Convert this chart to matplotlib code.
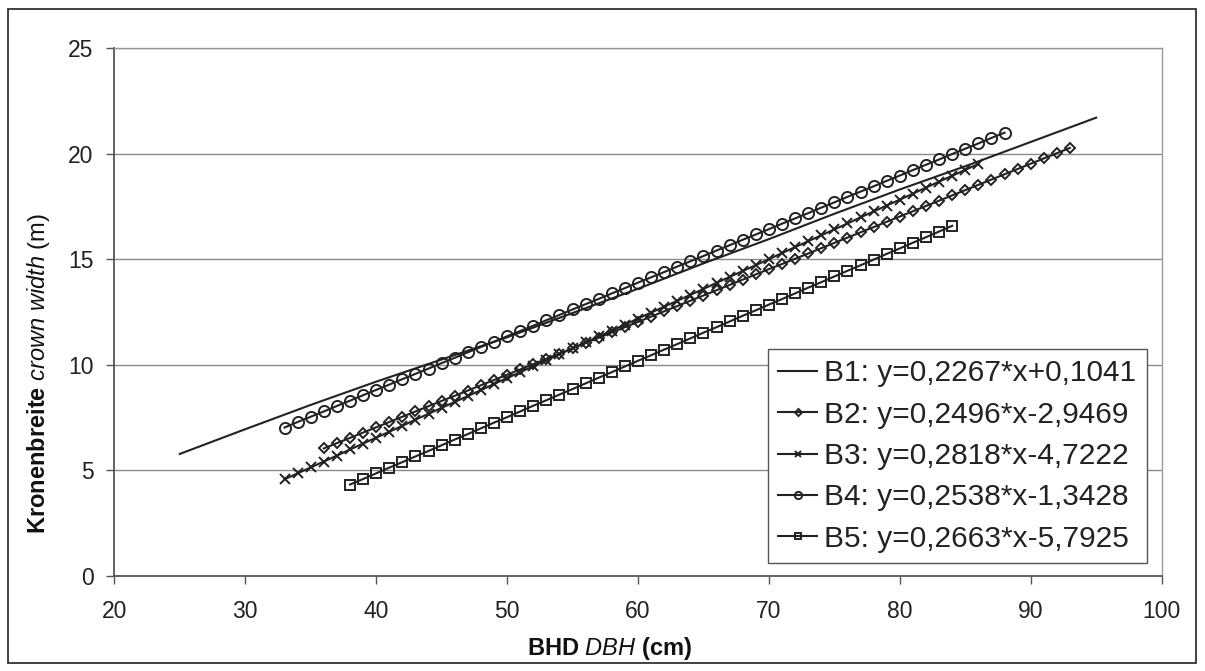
import matplotlib
matplotlib.use('Agg')
import matplotlib.pyplot as plt
from matplotlib.patches import Rectangle

plt.rcParams['font.family'] = ['Liberation Sans', 'DejaVu Sans']
plt.rcParams['mathtext.fontset'] = 'custom'
plt.rcParams['mathtext.rm'] = 'Liberation Sans'
plt.rcParams['mathtext.it'] = 'Liberation Sans:italic'
plt.rcParams['mathtext.bf'] = 'Liberation Sans:bold'

# ---------------- data ----------------
labels = ["B1: y=0,2267*x+0,1041",
          "B2: y=0,2496*x-2,9469",
          "B3: y=0,2818*x-4,7222",
          "B4: y=0,2538*x-1,3428",
          "B5: y=0,2663*x-5,7925"]

b1_x = [25, 30, 35, 40, 45, 50, 55, 60, 65, 70, 75, 80, 85, 90, 95]
b1_y = [5.78, 6.95, 8.10, 9.20, 10.25, 11.30, 12.45, 13.60, 14.80, 15.95,
        17.15, 18.30, 19.40, 20.55, 21.70]

b2_x = list(range(36, 94))
b2_y = [6.04, 6.29, 6.54, 6.79, 7.04, 7.29, 7.54, 7.79, 8.04, 8.29,
        8.53, 8.78, 9.03, 9.28, 9.53, 9.78, 10.03, 10.28, 10.53, 10.78,
        11.03, 11.28, 11.53, 11.78, 12.03, 12.28, 12.53, 12.78, 13.03, 13.28,
        13.53, 13.78, 14.03, 14.28, 14.53, 14.77, 15.02, 15.27, 15.52, 15.77,
        16.02, 16.27, 16.52, 16.77, 17.02, 17.27, 17.52, 17.77, 18.02, 18.27,
        18.52, 18.77, 19.02, 19.27, 19.52, 19.77, 20.02, 20.27]

b3_x = list(range(33, 87))
b3_y = [4.58, 4.86, 5.14, 5.42, 5.70, 5.99, 6.27, 6.55, 6.83, 7.11,
        7.40, 7.68, 7.96, 8.24, 8.52, 8.80, 9.09, 9.37, 9.65, 9.93,
        10.21, 10.50, 10.78, 11.06, 11.34, 11.62, 11.90, 12.19, 12.47, 12.75,
        13.03, 13.31, 13.59, 13.88, 14.16, 14.44, 14.72, 15.00, 15.29, 15.57,
        15.85, 16.13, 16.41, 16.69, 16.98, 17.26, 17.54, 17.82, 18.10, 18.39,
        18.67, 18.95, 19.23, 19.51]

b4_x = list(range(33, 89))
b4_y = [7.03, 7.29, 7.54, 7.79, 8.05, 8.30, 8.56, 8.81, 9.06, 9.32,
        9.57, 9.82, 10.08, 10.33, 10.59, 10.84, 11.09, 11.35, 11.60, 11.85,
        12.11, 12.36, 12.62, 12.87, 13.12, 13.38, 13.63, 13.89, 14.14, 14.39,
        14.65, 14.90, 15.15, 15.41, 15.66, 15.92, 16.17, 16.42, 16.68, 16.93,
        17.18, 17.44, 17.69, 17.95, 18.20, 18.45, 18.71, 18.96, 19.22, 19.47,
        19.72, 19.98, 20.23, 20.48, 20.74, 20.99]

b5_x = list(range(38, 85))
b5_y = [4.33, 4.59, 4.86, 5.13, 5.39, 5.66, 5.92, 6.19, 6.46, 6.72,
        6.99, 7.26, 7.52, 7.79, 8.06, 8.32, 8.59, 8.85, 9.12, 9.39,
        9.65, 9.92, 10.19, 10.45, 10.72, 10.98, 11.25, 11.52, 11.78, 12.05,
        12.32, 12.58, 12.85, 13.11, 13.38, 13.65, 13.91, 14.18, 14.45, 14.71,
        14.98, 15.25, 15.51, 15.78, 16.04, 16.31, 16.58]

x_ticks = [20, 30, 40, 50, 60, 70, 80, 90, 100]
y_ticks = [0, 5, 10, 15, 20, 25]

# ---------------- figure ----------------
fig = plt.figure(figsize=(12.05, 6.71), dpi=100)
fig.patch.set_facecolor('white')
fig.patches.append(Rectangle((8 / 1205, 1 - 663 / 671), 1188 / 1205, 654 / 671,
                             transform=fig.transFigure, fill=False,
                             edgecolor='#333333', linewidth=1.3))

ax = fig.add_axes([0.0949, 0.1416, 0.8691, 0.7869])

ink = '#222222'
lw = 1.5
mew = 1.4
ax.plot(b1_x, b1_y, color=ink, lw=lw, label=labels[0], zorder=3)
ax.plot(b2_x, b2_y, color=ink, lw=lw, marker='D', markersize=5.5,
        markerfacecolor='none', markeredgecolor=ink, markeredgewidth=mew,
        label=labels[1], zorder=3)
ax.plot(b3_x, b3_y, color=ink, lw=lw, marker='x', markersize=7.5,
        markeredgecolor=ink, markeredgewidth=mew, label=labels[2], zorder=3)
ax.plot(b4_x, b4_y, color=ink, lw=lw, marker='o', markersize=8,
        markerfacecolor='none', markeredgecolor=ink, markeredgewidth=mew,
        label=labels[3], zorder=3)
ax.plot(b5_x, b5_y, color=ink, lw=lw, marker='s', markersize=7.5,
        markerfacecolor='none', markeredgecolor=ink, markeredgewidth=mew,
        label=labels[4], zorder=3)

ax.set_xlim(20, 100)
ax.set_ylim(0, 25)
ax.set_xticks(x_ticks)
ax.set_yticks(y_ticks)
ax.grid(axis='y', color='#8a8a8a', linewidth=1.0, zorder=0)
ax.set_axisbelow(True)

for s in ['left', 'bottom']:
    ax.spines[s].set_color('#555555')
    ax.spines[s].set_linewidth(1.3)
for s in ['top', 'right']:
    ax.spines[s].set_color('#999999')
    ax.spines[s].set_linewidth(1.0)
    ax.spines[s].set_linestyle((0, (1, 1)))

ax.tick_params(axis='both', direction='out', length=6, width=1.0,
               color='#555555', labelsize=16.5, labelcolor='#222222')
ax.tick_params(axis='x', pad=11)
ax.tick_params(axis='y', pad=9)

ax.set_xlabel(r'$\mathbf{BHD}\ \mathit{DBH}\ \mathbf{(cm)}$', fontsize=17,
              color='#111111')
ax.xaxis.set_label_coords(0.473, -0.112)
ax.set_ylabel(r'$\mathbf{Kronenbreite}\ \mathit{crown\ width}\ \mathrm{(m)}$',
              fontsize=17, color='#111111')
ax.yaxis.set_label_coords(-0.060, 0.383)

leg = ax.legend(loc='lower right', bbox_to_anchor=(0.986, 0.024),
                borderaxespad=0, fontsize=21.5, frameon=True, fancybox=False,
                shadow=False, edgecolor='#555555', facecolor='white',
                framealpha=1, labelspacing=0.45, handlelength=1.3,
                handletextpad=0.25, borderpad=0.35, markerscale=0.65)
leg.get_frame().set_linewidth(1.0)
for t in leg.get_texts():
    t.set_color('#222222')

fig.savefig('out.png', dpi=100, facecolor='white')
